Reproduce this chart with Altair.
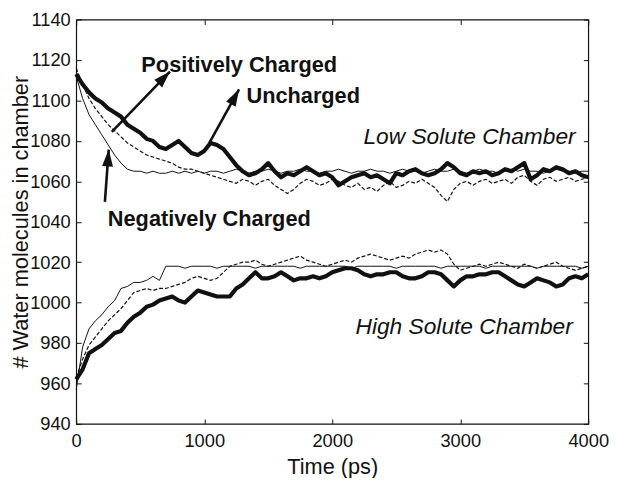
import altair as alt
import pandas as pd

# ---------------- data (every 50 ps) ----------------
TIME = list(range(0, 4001, 50))

LOW_UNCHARGED = [1113,1108,1104,1101,1099,1096,1094,1092,1088,1086,
                 1084,1081,1080,1077,1076,1078,1080,1077,1074,1073,
                 1075,1079,1078,1076,1072,1068,1065,1063,1064,1066,
                 1069,1065,1062,1064,1063,1065,1067,1065,1063,1064,
                 1062,1058,1060,1062,1063,1064,1062,1063,1061,1059,
                 1064,1063,1065,1066,1064,1063,1064,1066,1069,1067,
                 1064,1063,1065,1064,1065,1063,1064,1066,1065,1067,
                 1069,1061,1063,1066,1065,1067,1066,1064,1065,1063,
                 1062]
LOW_POSITIVE = [1116,1108,1101,1096,1092,1088,1085,1082,1079,1077,
                1075,1073,1072,1071,1070,1069,1067,1066,1066,1065,
                1064,1063,1062,1061,1060,1059,1061,1060,1058,1060,
                1061,1058,1056,1054,1056,1059,1061,1060,1058,1059,
                1061,1060,1058,1057,1059,1056,1057,1055,1058,1060,
                1057,1058,1060,1059,1061,1059,1057,1053,1050,1056,
                1059,1060,1058,1060,1061,1059,1060,1061,1059,1062,
                1063,1060,1058,1061,1062,1060,1061,1062,1060,1061,
                1062]
LOW_NEGATIVE = [1112,1101,1093,1088,1083,1078,1073,1069,1066,1065,
                1065,1064,1065,1064,1064,1065,1064,1065,1064,1065,
                1064,1065,1065,1064,1065,1066,1065,1064,1065,1065,
                1066,1065,1064,1065,1065,1066,1065,1065,1064,1065,
                1065,1066,1065,1064,1065,1065,1066,1065,1065,1064,
                1065,1066,1065,1065,1064,1065,1066,1065,1065,1066,
                1065,1064,1065,1066,1065,1065,1064,1065,1066,1065,
                1066,1065,1065,1064,1065,1066,1065,1065,1064,1065,
                1065]
HIGH_UNCHARGED = [962,967,975,977,979,982,985,986,990,993,
                  995,998,999,1001,1002,1003,1001,1000,1003,1006,
                  1005,1004,1003,1003,1003,1007,1009,1012,1015,1012,
                  1012,1013,1015,1013,1011,1012,1012,1013,1012,1013,
                  1015,1016,1017,1017,1016,1014,1013,1014,1014,1015,
                  1015,1013,1012,1012,1013,1015,1015,1014,1011,1008,
                  1011,1013,1013,1014,1014,1015,1015,1013,1011,1009,
                  1008,1010,1012,1011,1010,1008,1009,1012,1013,1012,
                  1014]
HIGH_POSITIVE = [963,972,979,983,987,991,994,997,1001,1005,
                 1006,1007,1006,1007,1007,1008,1009,1010,1012,1013,
                 1012,1011,1012,1015,1018,1019,1020,1020,1021,1019,
                 1018,1019,1020,1021,1022,1023,1021,1020,1019,1018,
                 1019,1020,1021,1020,1022,1023,1024,1023,1022,1021,
                 1022,1023,1022,1024,1025,1026,1025,1026,1024,1019,
                 1016,1017,1018,1019,1018,1019,1020,1019,1018,1017,
                 1019,1018,1017,1018,1019,1020,1018,1017,1016,1017,
                 1018]
HIGH_NEGATIVE = [957,978,987,991,994,998,1001,1007,1008,1010,
                 1010,1011,1013,1011,1018,1018,1018,1017,1018,1018,
                 1018,1018,1017,1018,1018,1018,1018,1018,1017,1018,
                 1018,1018,1018,1018,1018,1017,1018,1018,1018,1018,
                 1018,1018,1018,1017,1018,1018,1018,1018,1018,1018,
                 1017,1018,1018,1018,1018,1018,1018,1017,1018,1018,
                 1018,1018,1018,1018,1017,1018,1018,1018,1018,1018,
                 1018,1018,1017,1018,1018,1018,1018,1018,1018,1017,
                 1018]

X_TICKS = [0, 1000, 2000, 3000, 4000]
Y_TICKS = [940, 960, 980, 1000, 1020, 1040, 1060, 1080, 1100, 1120, 1140]

# annotations (data coordinates)
ANN_TEXT = ["Positively Charged", "Uncharged", "Negatively Charged"]
ANN_X = [509, 1330, 247]
ANN_Y = [1114.3, 1098.9, 1037.8]

CHAMBER_TEXT = ["Low Solute Chamber", "High Solute Chamber"]
CHAMBER_X = [2244, 2182]
CHAMBER_Y = [1078.4, 984.7]

ARROW_X0 = [278, 1041, 224]
ARROW_Y0 = [1084.5, 1079.1, 1049.8]
ARROW_X1 = [732, 1272, 254]
ARROW_Y1 = [1114.3, 1105.5, 1075.7]
ARROW_ANGLE = [44, 29, 4]

# ---------------- tables ----------------
rows = []
for chamber, kind, vals in [
    ("Low", "Uncharged", LOW_UNCHARGED), ("Low", "Positive", LOW_POSITIVE),
    ("Low", "Negative", LOW_NEGATIVE), ("High", "Uncharged", HIGH_UNCHARGED),
    ("High", "Positive", HIGH_POSITIVE), ("High", "Negative", HIGH_NEGATIVE)]:
    for t, v in zip(TIME, vals):
        rows.append({"time": t, "water": v, "chamber": chamber, "kind": kind})
df = pd.DataFrame(rows)

ann = pd.DataFrame({"text": ANN_TEXT, "x": ANN_X, "y": ANN_Y})
cham = pd.DataFrame({"text": CHAMBER_TEXT, "x": CHAMBER_X, "y": CHAMBER_Y})
arrows = pd.DataFrame({"x0": ARROW_X0, "y0": ARROW_Y0, "x1": ARROW_X1,
                       "y1": ARROW_Y1, "angle": ARROW_ANGLE})

INK = "#111111"
FONT = "Liberation Sans"
xs = alt.Scale(domain=[0, 4000], nice=False)
ys = alt.Scale(domain=[940, 1140], nice=False)

base = alt.Chart(df)

thin = base.transform_filter(alt.datum.kind == "Negative").mark_line(
    color=INK, strokeWidth=1).encode(
    x=alt.X("time:Q", scale=xs, axis=alt.Axis(
        orient="bottom", values=X_TICKS, format="d", title="Time (ps)",
        offset=-5, tickSize=5, domain=False, grid=False, labelFlush=False,
        labelPadding=8, titlePadding=7, labelFontSize=18.5, titleFontSize=22)),
    y=alt.Y("water:Q", scale=ys, axis=alt.Axis(
        orient="left", values=Y_TICKS, format="d",
        title="# Water molecules in chamber",
        offset=-5, tickSize=5, domain=False, grid=False, labelFlush=False,
        labelPadding=6, titlePadding=-3, labelFontSize=18.5, titleFontSize=22)),
    detail="chamber:N")

dashed = base.transform_filter(alt.datum.kind == "Positive").mark_line(
    color=INK, strokeWidth=1.2, strokeDash=[4, 2]).encode(
    x=alt.X("time:Q", scale=xs, axis=alt.Axis(
        orient="top", values=X_TICKS, title=None, offset=-5, tickSize=5,
        domain=False, grid=False, labels=False)),
    y=alt.Y("water:Q", scale=ys, axis=alt.Axis(
        orient="right", values=Y_TICKS, title=None, offset=-5, tickSize=5,
        domain=False, grid=False, labels=False)),
    detail="chamber:N")

thick = base.transform_filter(alt.datum.kind == "Uncharged").mark_line(
    color=INK, strokeWidth=4.2, strokeJoin="round").encode(
    x=alt.X("time:Q", scale=xs, axis=None),
    y=alt.Y("water:Q", scale=ys, axis=None),
    detail="chamber:N")

shafts = alt.Chart(arrows).mark_rule(color=INK, strokeWidth=2.6).encode(
    x=alt.X("x0:Q", scale=xs, axis=None), y=alt.Y("y0:Q", scale=ys, axis=None),
    x2="x1:Q", y2="y1:Q")

heads = alt.Chart(arrows).mark_point(
    shape="M0,0L0.65,2L-0.65,2Z", filled=True, size=289, color=INK,
    opacity=1, strokeWidth=0).encode(
    x=alt.X("x1:Q", scale=xs, axis=None), y=alt.Y("y1:Q", scale=ys, axis=None),
    angle=alt.Angle("angle:Q", scale=None))

ann_text = alt.Chart(ann).mark_text(
    align="left", baseline="alphabetic", font=FONT, fontSize=22,
    fontWeight="bold", color=INK).encode(
    x=alt.X("x:Q", scale=xs, axis=None), y=alt.Y("y:Q", scale=ys, axis=None),
    text="text:N")

cham_text = alt.Chart(cham).mark_text(
    align="left", baseline="alphabetic", font=FONT, fontSize=23,
    fontStyle="italic", color=INK).encode(
    x=alt.X("x:Q", scale=xs, axis=None), y=alt.Y("y:Q", scale=ys, axis=None),
    text="text:N")

chart = alt.layer(thin, dashed, thick, shafts, heads, ann_text, cham_text).resolve_axis(
    x="independent", y="independent").properties(
    width=518, height=409,
    padding={"left": 69, "top": 9, "right": 22, "bottom": 52},
    autosize=alt.AutoSizeParams(type="none"),
    background="white",
).configure_view(stroke=INK, strokeWidth=1.2).configure_axis(
    labelFont=FONT, titleFont=FONT, labelColor=INK, titleColor=INK,
    tickColor=INK, tickWidth=1, titleFontWeight="normal")

chart.save("out.html", embed_options={"renderer": "svg", "actions": False})
